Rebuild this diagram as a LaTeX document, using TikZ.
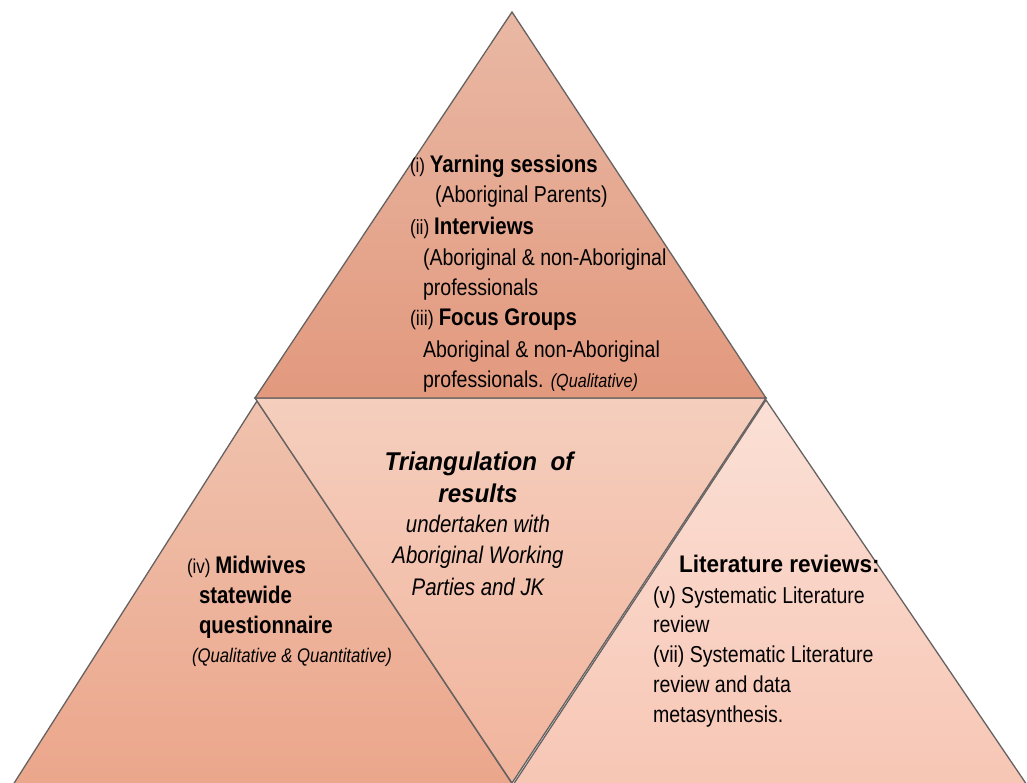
\documentclass[tikz,border=0pt]{standalone}
\usepackage{fontspec}
\setmainfont{Liberation Sans}[FakeStretch=0.85]
\newfontfamily\headfont{Liberation Sans}[FakeStretch=0.94]
\newcommand\sz[1]{\fontsize{#1}{#1}\selectfont}

\definecolor{edgegray}{HTML}{666261}
\definecolor{topHi}{HTML}{E9B8A4}
\definecolor{topLo}{HTML}{E2997E}
\definecolor{midHi}{HTML}{F5CEBD}
\definecolor{midLo}{HTML}{F1B49C}
\definecolor{leftHi}{HTML}{F0C2AE}
\definecolor{leftLo}{HTML}{EBA68B}
\definecolor{rightHi}{HTML}{FBE0D6}
\definecolor{rightLo}{HTML}{F7C6B4}

\begin{document}
\begin{tikzpicture}[x=1pt,y=-1pt,
  facet/.style={draw=edgegray,line width=1.3pt,line join=miter},
  txt/.style={anchor=base west,inner sep=0pt,outer sep=0pt},
  ctr/.style={anchor=base,inner sep=0pt,outer sep=0pt}]
\useasboundingbox (0,0) rectangle (1027,783);
\clip (0,0) rectangle (1027,783);

% corner points of the four triangles
\coordinate (apex)  at (512,12);
\coordinate (bl)    at (255,398);
\coordinate (br)    at (766,398);
\coordinate (bot)   at (512,783);
\coordinate (lapex) at (257,401);
\coordinate (lfoot) at (11,788);
\coordinate (lbot)  at (515,788);
\coordinate (rapex) at (766,400);
\coordinate (rfoot) at (1029,788);
\coordinate (rbot)  at (511,788);

% lower left triangle
\shade[top color=leftHi,bottom color=leftLo] (lapex) -- (lbot) -- (lfoot) -- cycle;
\draw[facet] (lapex) -- (lbot) -- (lfoot) -- cycle;
% lower right triangle
\shade[top color=rightHi,bottom color=rightLo] (rapex) -- (rfoot) -- (rbot) -- cycle;
\draw[facet] (rapex) -- (rfoot) -- (rbot) -- cycle;
% inverted middle triangle
\shade[top color=midHi,bottom color=midLo] (bl) -- (br) -- (bot) -- cycle;
\draw[facet] (bl) -- (br) -- (bot) -- cycle;
% top triangle
\shade[top color=topHi,bottom color=topLo] (apex) -- (br) -- (bl) -- cycle;
\draw[facet] (apex) -- (br) -- (bl) -- cycle;

% top triangle: qualitative methods
\node[txt] (t1) at (410,173) {\sz{20}(i) \sz{24}\bfseries Yarning sessions};
\node[txt] (t2) at (435,203) {\sz{23}(Aboriginal Parents)};
\node[txt] (t3) at (410,235) {\sz{20.5}(ii) \sz{24}\bfseries Interviews};
\node[txt] (t4) at (423,266) {\sz{23}(Aboriginal \& non-Aboriginal};
\node[txt] (t5) at (423,295) {\sz{23}professionals};
\node[txt] (t6) at (410,325) {\sz{21}(iii) \sz{24}\bfseries Focus Groups};
\node[txt] (t7) at (423,357) {\sz{23}Aboriginal \& non-Aboriginal};
\node[txt] (t8) at (423,387) {\sz{23}professionals. {\sz{19}\itshape (Qualitative)}};

% middle triangle: triangulation
\node[ctr] (m1) at (479,470) {\headfont\sz{25.7}\bfseries\itshape Triangulation\ \ of};
\node[ctr] (m2) at (478,502) {\headfont\sz{25.7}\bfseries\itshape results};
\node[ctr] (m3) at (478,532) {\sz{24}\itshape undertaken with};
\node[ctr] (m4) at (478,563) {\sz{24}\itshape Aboriginal Working};
\node[ctr] (m5) at (478,595) {\sz{24}\itshape Parties and JK};

% left triangle: questionnaire
\node[txt] (l1) at (187,573) {\sz{20}(iv) \sz{24}\bfseries Midwives};
\node[txt] (l2) at (199,603) {\sz{24}\bfseries statewide};
\node[txt] (l3) at (199,633) {\sz{24}\bfseries questionnaire};
\node[txt] (l4) at (192,662) {\sz{19.7}\itshape (Qualitative \& Quantitative)};

% right triangle: literature reviews
\node[txt] (r1) at (679,572) {\headfont\sz{24}\bfseries Literature reviews:};
\node[txt] (r2) at (653,603) {\sz{23}(v) Systematic Literature};
\node[txt] (r3) at (653,632) {\sz{23}review};
\node[txt] (r4) at (653,662) {\sz{23}(vii) Systematic Literature};
\node[txt] (r5) at (653,692) {\sz{23}review and data};
\node[txt] (r6) at (653,722) {\sz{23}metasynthesis.};
\end{tikzpicture}
\end{document}
